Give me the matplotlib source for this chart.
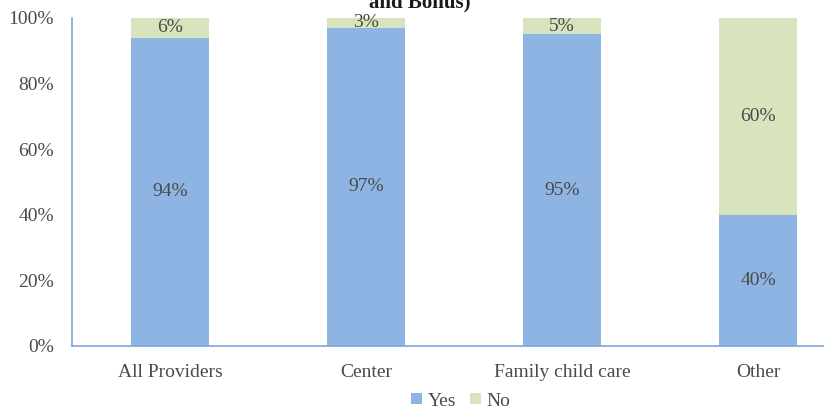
import matplotlib.pyplot as plt
import numpy as np

categories = ["All Providers", "Center", "Family child care", "Other"]
yes_vals = [94, 97, 95, 40]
no_vals = [6, 3, 5, 60]
yticks = [0, 20, 40, 60, 80, 100]

plt.rcParams['font.family'] = ['Liberation Serif', 'DejaVu Serif']
txt = '#4a4a4a'
blue = '#8eb4e3'
green = '#d7e4bd'

fig = plt.figure(figsize=(8.24, 4.09), dpi=100)
W, H = 824, 409
x0, x1 = 72, 856
ytop, ybot = 18, 346
ax = fig.add_axes([x0 / W, 1 - ybot / H, (x1 - x0) / W, (ybot - ytop) / H])

x = np.arange(len(categories))
bw = 0.395
ax.bar(x, yes_vals, bw, color=blue, label='Yes')
ax.bar(x, no_vals, bw, bottom=yes_vals, color=green, label='No')

for i in range(len(categories)):
    ax.text(x[i], yes_vals[i] / 2, f"{yes_vals[i]}%", ha='center', va='center', fontsize=14, color=txt)
    ax.text(x[i], yes_vals[i] + no_vals[i] / 2, f"{no_vals[i]}%", ha='center', va='center', fontsize=14, color=txt)

ax.set_xlim(-0.5, 3.5)
ax.set_ylim(0, 100)
ax.set_yticks(yticks)
ax.set_yticklabels([f"{v}%" for v in yticks], fontsize=14, color=txt)
ax.set_xticks(x)
ax.set_xticklabels(categories, fontsize=14, color=txt)
ax.tick_params(axis='y', length=0, pad=13)
ax.tick_params(axis='x', length=0, pad=13)
for s in ['top', 'right']:
    ax.spines[s].set_visible(False)
for s in ['left', 'bottom']:
    ax.spines[s].set_color('#7ea6d8')
    ax.spines[s].set_linewidth(1.2)

fig.text(420 / W, 1 - 2 / H, "and Bonus)", ha='center', va='center', fontsize=15, fontweight='bold', color='#1a1a1a')

fig.legend(loc='center', bbox_to_anchor=(461 / W, 1 - 401 / H), ncol=2, frameon=False,
           fontsize=14, handlelength=0.55, handleheight=0.55, handletextpad=0.3, columnspacing=0.7,
           labelcolor=txt)

fig.savefig('out.png', dpi=100)
